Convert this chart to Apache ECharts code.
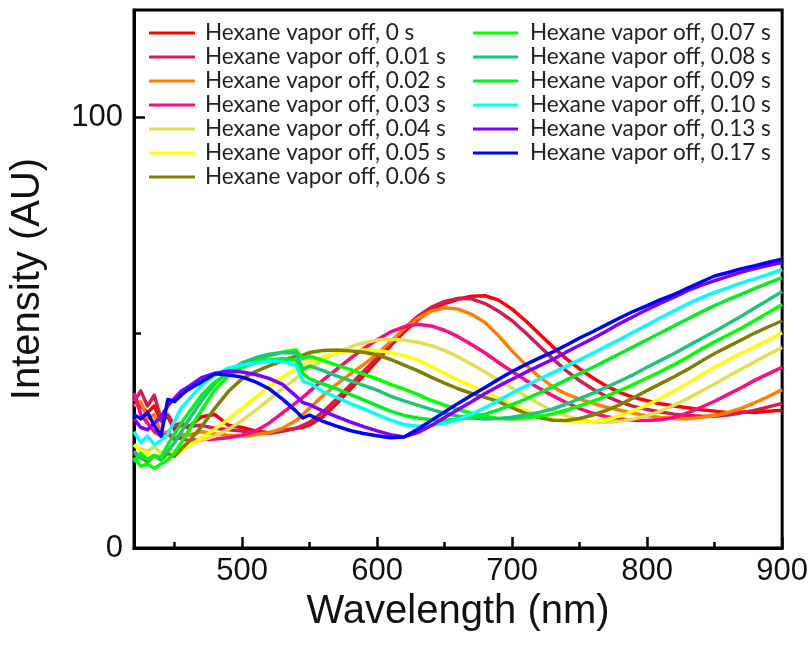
<!DOCTYPE html>
<html>
<head>
<meta charset="utf-8">
<script src="https://cdn.jsdelivr.net/npm/echarts@6/dist/echarts.min.js"></script>
<style>
  html, body { margin: 0; padding: 0; background: #ffffff; }
  #chart { width: 811px; height: 653px; }
</style>
</head>
<body>
<div id="chart"></div>
<script>
// Wavelength sampling (nm)
const wavelength = [420,425,430,435,440,445,450,455,460,
  470,480,490,500,510,520,530,540,545,
  550,560,570,580,590,600,610,620,630,640,
  650,660,670,680,690,700,710,720,730,740,
  750,760,770,780,790,800,810,820,830,840,
  850,860,870,880,890,900];

// Intensity (AU) after the hexane vapor is switched off
const off_0s = [35,33,31.5,33,29.5,30.5,27.5,28.5,28,
  30.5,31,28.5,28,27.2,26.8,27.3,27.8,28,
  28.6,30.5,33.5,36.8,40,43.5,47,50.2,53,55.3,
  56.8,57.8,58.5,58.6,57.6,55.5,52.8,49.8,46.8,44,
  41.6,39.5,37.6,36.1,35,34.2,33.5,33,32.6,32.1,
  31.8,31.4,31.6,31.5,31.8,32];
const off_001s = [34,36.5,33,35.5,30,31,28.5,29,28.3,
  28.5,27.8,27.5,27.2,26.7,26.6,27.1,27.8,28.5,
  29.2,31.6,34.6,37.8,41,44.3,47.6,51,53.8,55.9,
  57.3,58,57.9,56.8,55,52.8,50,47,44,41.2,
  38.9,36.9,35.2,33.9,32.9,32.2,31.6,31.1,30.8,30.6,
  30.6,30.9,31.4,32,32.8,33.6];
const off_002s = [33,34,30,31,26.5,27,25.5,26.5,26.2,
  27,26.5,26.2,26,26.3,26.8,27.8,29.6,31,
  32.5,35.4,38,40.4,42.6,45,48,50.9,53.3,55,
  55.8,55.5,54.3,52.4,49.3,45.8,42.6,39.8,37.5,35.8,
  34.6,33.6,32.7,32,31.3,30.7,30.3,30.1,30,30.3,
  30.8,31.5,32.5,33.8,35.2,36.8];
const off_003s = [36,31,29,27,26,26.5,25.2,25.6,25,
  25.2,25.3,25.6,26.2,27.2,29,31.4,33.8,35,
  36.4,39,41.5,44,46.3,48.4,50.2,51.4,52,51.6,
  50.6,49.1,47.3,45.3,43.1,41,39,37.1,35.4,33.8,
  32.4,31.3,30.5,30,29.7,29.6,29.8,30.3,31.4,32.7,
  34.1,35.7,37.3,39,40.5,42];
const off_004s = [24,23,22.5,23.5,22,23,22.5,23.5,24,
  25,26,27.6,29.6,32,34.5,37,39.4,40.6,
  41.8,43.8,45.4,46.7,47.7,48.3,48.5,48.3,47.8,47,
  45.9,44.4,42.7,40.9,39,37.2,35.3,33.5,31.9,30.7,
  29.8,29.3,29.2,29.5,30,30.7,31.8,33.2,34.7,36.4,
  38.1,39.9,41.6,43.3,45,46.6];
const off_005s = [24,22.5,22,21,21.5,20.5,21.8,22.5,23.6,
  25.6,27.6,30,32.5,35,37.5,39.7,41.6,42.4,
  43.2,44.4,45.3,45.8,46,45.9,45.4,44.7,43.7,42.2,
  40.6,39,37.6,36.2,34.8,33.3,32,30.8,30,29.5,
  29.2,29.4,29.9,30.7,31.9,33.2,34.8,36.5,38.3,40.2,
  42,43.7,45.3,46.8,48.4,50];
const off_006s = [22,21,20,21.5,20.5,22,21.3,23,24.5,
  28.2,32.5,36.4,39.3,41,42.3,43.5,44.6,44.8,
  45.4,45.9,46,45.8,45.5,44.9,43.8,42.5,41.2,39.7,
  38.3,37,35.9,35,34,32.6,31.3,30.3,29.7,29.6,
  30.1,30.9,32,33.3,34.9,36.6,38.2,39.8,41.5,43.4,
  45.2,46.8,48.4,50,51.4,52.8];
const off_007s = [21,19,19.5,18.5,19.5,20.5,22,24.5,27,
  32,36.8,40,42,43.5,44.6,45.5,46,44,
  44.6,43.6,42.5,41.5,40.4,39.3,38,36.9,35.7,34.3,
  33.2,32.2,31.3,30.6,30.1,30,30.2,30.6,31.1,32,
  33,34.1,35.3,36.6,38,39.5,41,42.6,44.3,46.2,
  47.9,49.5,51.1,52.9,54.7,56.6];
const off_008s = [22.5,21,20.5,21.5,20.5,22.5,24.5,27,29.5,
  34.2,38.2,41.2,43,44.2,45,45.4,45.3,41.5,
  42.3,41.2,40,38.9,37.8,36.7,35.3,34.2,33.2,32.2,
  31.3,30.6,30.2,30,30.1,30.4,30.9,31.5,32.3,33.4,
  34.7,36,37.4,38.8,40.3,42,43.6,45.2,46.9,48.6,
  50.3,52.1,53.9,55.8,57.7,59.6];
const off_009s = [20,22,20.5,21.5,21,24,26.5,29,31.2,
  35.5,38.6,40.6,42,43,43.7,44,43.6,40.5,
  39.3,38.1,37,35.7,34.4,33.1,31.8,30.8,30.2,29.8,
  29.7,29.9,30.4,31.1,32.1,33.3,34.6,36,37.5,39,
  40.5,42,43.6,45.2,46.8,48.4,50,51.6,53.2,54.8,
  56.3,57.7,59,60.3,61.6,62.8];
const off_010s = [27,24.5,26,24,25,26.5,29.5,32.5,34.3,
  37.8,40.2,41.8,42.5,43,43.4,43.3,42.4,38.8,
  38.2,36.4,35,33.6,32.3,31,29.7,28.7,28.3,28.5,
  29,29.8,31.1,32.6,34.3,36,37.6,39.2,40.7,42.2,
  43.7,45.3,46.9,48.5,50.2,51.8,53.5,55.1,56.7,58.1,
  59.4,60.5,61.6,62.6,63.6,64.7];
const off_013s = [30,28,27.5,29,30.5,33,34.8,36.5,37.4,
  39.6,40.6,41.1,40.9,40.3,39.4,38,35.3,33.8,
  33.3,31.8,30.5,29.3,28.2,27.2,26.3,25.8,26.8,28.4,
  30.3,32.2,34,35.9,37.6,39.2,40.8,42.3,43.8,45.5,
  47.1,48.7,50.4,52.2,53.8,55.4,56.9,58.3,59.8,61,
  62.1,63.1,64.1,64.9,65.7,66.3];
const off_017s = [31,30,31.5,28.5,26,34.5,34,35.5,36.8,
  38.6,40.5,40.2,39.7,38.6,37,34.6,31.8,30.2,
  30.9,29.4,28.3,27.3,26.6,26.1,25.6,25.8,27.6,29.6,
  31.6,33.6,35.5,37.3,39.2,41,42.6,44.1,45.5,47.1,
  48.8,50.3,51.9,53.5,55,56.3,57.7,58.9,60.4,61.8,
  63.2,64,64.9,65.6,66.4,67.1];

const seriesNames = [
  'Hexane vapor off, 0 s', 'Hexane vapor off, 0.01 s', 'Hexane vapor off, 0.02 s',
  'Hexane vapor off, 0.03 s', 'Hexane vapor off, 0.04 s', 'Hexane vapor off, 0.05 s',
  'Hexane vapor off, 0.06 s', 'Hexane vapor off, 0.07 s', 'Hexane vapor off, 0.08 s',
  'Hexane vapor off, 0.09 s', 'Hexane vapor off, 0.10 s', 'Hexane vapor off, 0.13 s',
  'Hexane vapor off, 0.17 s'
];
const seriesValues = [off_0s, off_001s, off_002s, off_003s, off_004s, off_005s, off_006s,
  off_007s, off_008s, off_009s, off_010s, off_013s, off_017s];
const seriesColors = ['#ff0000', '#cf1f50', '#ff8000', '#ff0a80', '#e0e050', '#ffff00',
  '#808000', '#00ff00', '#1ec47c', '#00f020', '#00ffff', '#8000ff', '#0000ff'];

const xMajorTicks = [500, 600, 700, 800, 900];
const xMinorTicks = [450, 550, 650, 750, 850];
const yMajorTicks = [0, 100];
const yMinorTicks = [50];

const axisFont = '"Liberation Sans", Arial, sans-serif';
const legendFont = 'Lato, sans-serif';

const series = seriesValues.map((vals, k) => ({
  name: seriesNames[k],
  type: 'line',
  xAxisIndex: 0,
  yAxisIndex: 0,
  data: wavelength.map((w, i) => [w, vals[i]]),
  showSymbol: false,
  symbol: 'none',
  smooth: false,
  color: seriesColors[k],
  lineStyle: { width: 3.5, color: seriesColors[k], join: 'round' },
  emphasis: { disabled: true },
  animation: false
}));

const legendCommon = {
  orient: 'vertical',
  icon: 'rect',
  itemHeight: 3,
  itemGap: 0,
  padding: 0,
  selectedMode: false,
  textStyle: { fontFamily: legendFont, fontSize: 22.5, color: '#222', lineHeight: 24 }
};

const chart = echarts.init(document.getElementById('chart'), null, { renderer: 'canvas' });
chart.setOption({
  backgroundColor: '#ffffff',
  animation: false,
  grid: {
    left: 122, right: 28, top: 10, bottom: 105,
    show: true, borderColor: '#000', borderWidth: 3, backgroundColor: 'transparent'
  },
  legend: [
    Object.assign({}, legendCommon, {
      left: 149, top: 21, itemWidth: 46,
      textStyle: Object.assign({}, legendCommon.textStyle, { padding: [0, 0, 0, 5] }),
      data: seriesNames.slice(0, 7)
    }),
    Object.assign({}, legendCommon, {
      left: 473, top: 21, itemWidth: 45,
      textStyle: Object.assign({}, legendCommon.textStyle, { padding: [0, 0, 0, 7] }),
      data: seriesNames.slice(7)
    })
  ],
  xAxis: [
    {
      type: 'value', min: 420, max: 900, position: 'bottom',
      name: 'Wavelength (nm)', nameLocation: 'middle', nameGap: 44,
      nameTextStyle: { fontFamily: axisFont, fontSize: 40, color: '#111' },
      axisLine: { show: true, lineStyle: { color: '#000', width: 3 } },
      axisTick: { show: true, inside: true, length: 11, customValues: xMajorTicks,
                  lineStyle: { color: '#000', width: 2.5 } },
      axisLabel: { show: true, customValues: xMajorTicks, margin: 8,
                   fontFamily: axisFont, fontSize: 31, color: '#111' },
      splitLine: { show: false }
    },
    {
      type: 'value', min: 420, max: 900, position: 'bottom',
      axisLine: { show: false },
      axisTick: { show: true, inside: true, length: 6, customValues: xMinorTicks,
                  lineStyle: { color: '#000', width: 2.5 } },
      axisLabel: { show: false },
      splitLine: { show: false }
    }
  ],
  yAxis: [
    {
      type: 'value', min: 0, max: 125, position: 'left',
      name: 'Intensity (AU)', nameLocation: 'middle', nameGap: 86,
      nameTextStyle: { fontFamily: axisFont, fontSize: 40, color: '#111' },
      axisLine: { show: true, lineStyle: { color: '#000', width: 3 } },
      axisTick: { show: true, inside: true, length: 11, customValues: yMajorTicks,
                  lineStyle: { color: '#000', width: 2.5 } },
      axisLabel: { show: true, customValues: yMajorTicks, margin: 11,
                   fontFamily: axisFont, fontSize: 31, color: '#111' },
      splitLine: { show: false }
    },
    {
      type: 'value', min: 0, max: 125, position: 'left',
      axisLine: { show: false },
      axisTick: { show: true, inside: true, length: 7, customValues: yMinorTicks,
                  lineStyle: { color: '#000', width: 2.5 } },
      axisLabel: { show: false },
      splitLine: { show: false }
    }
  ],
  series: series
});
</script>
</body>
</html>
